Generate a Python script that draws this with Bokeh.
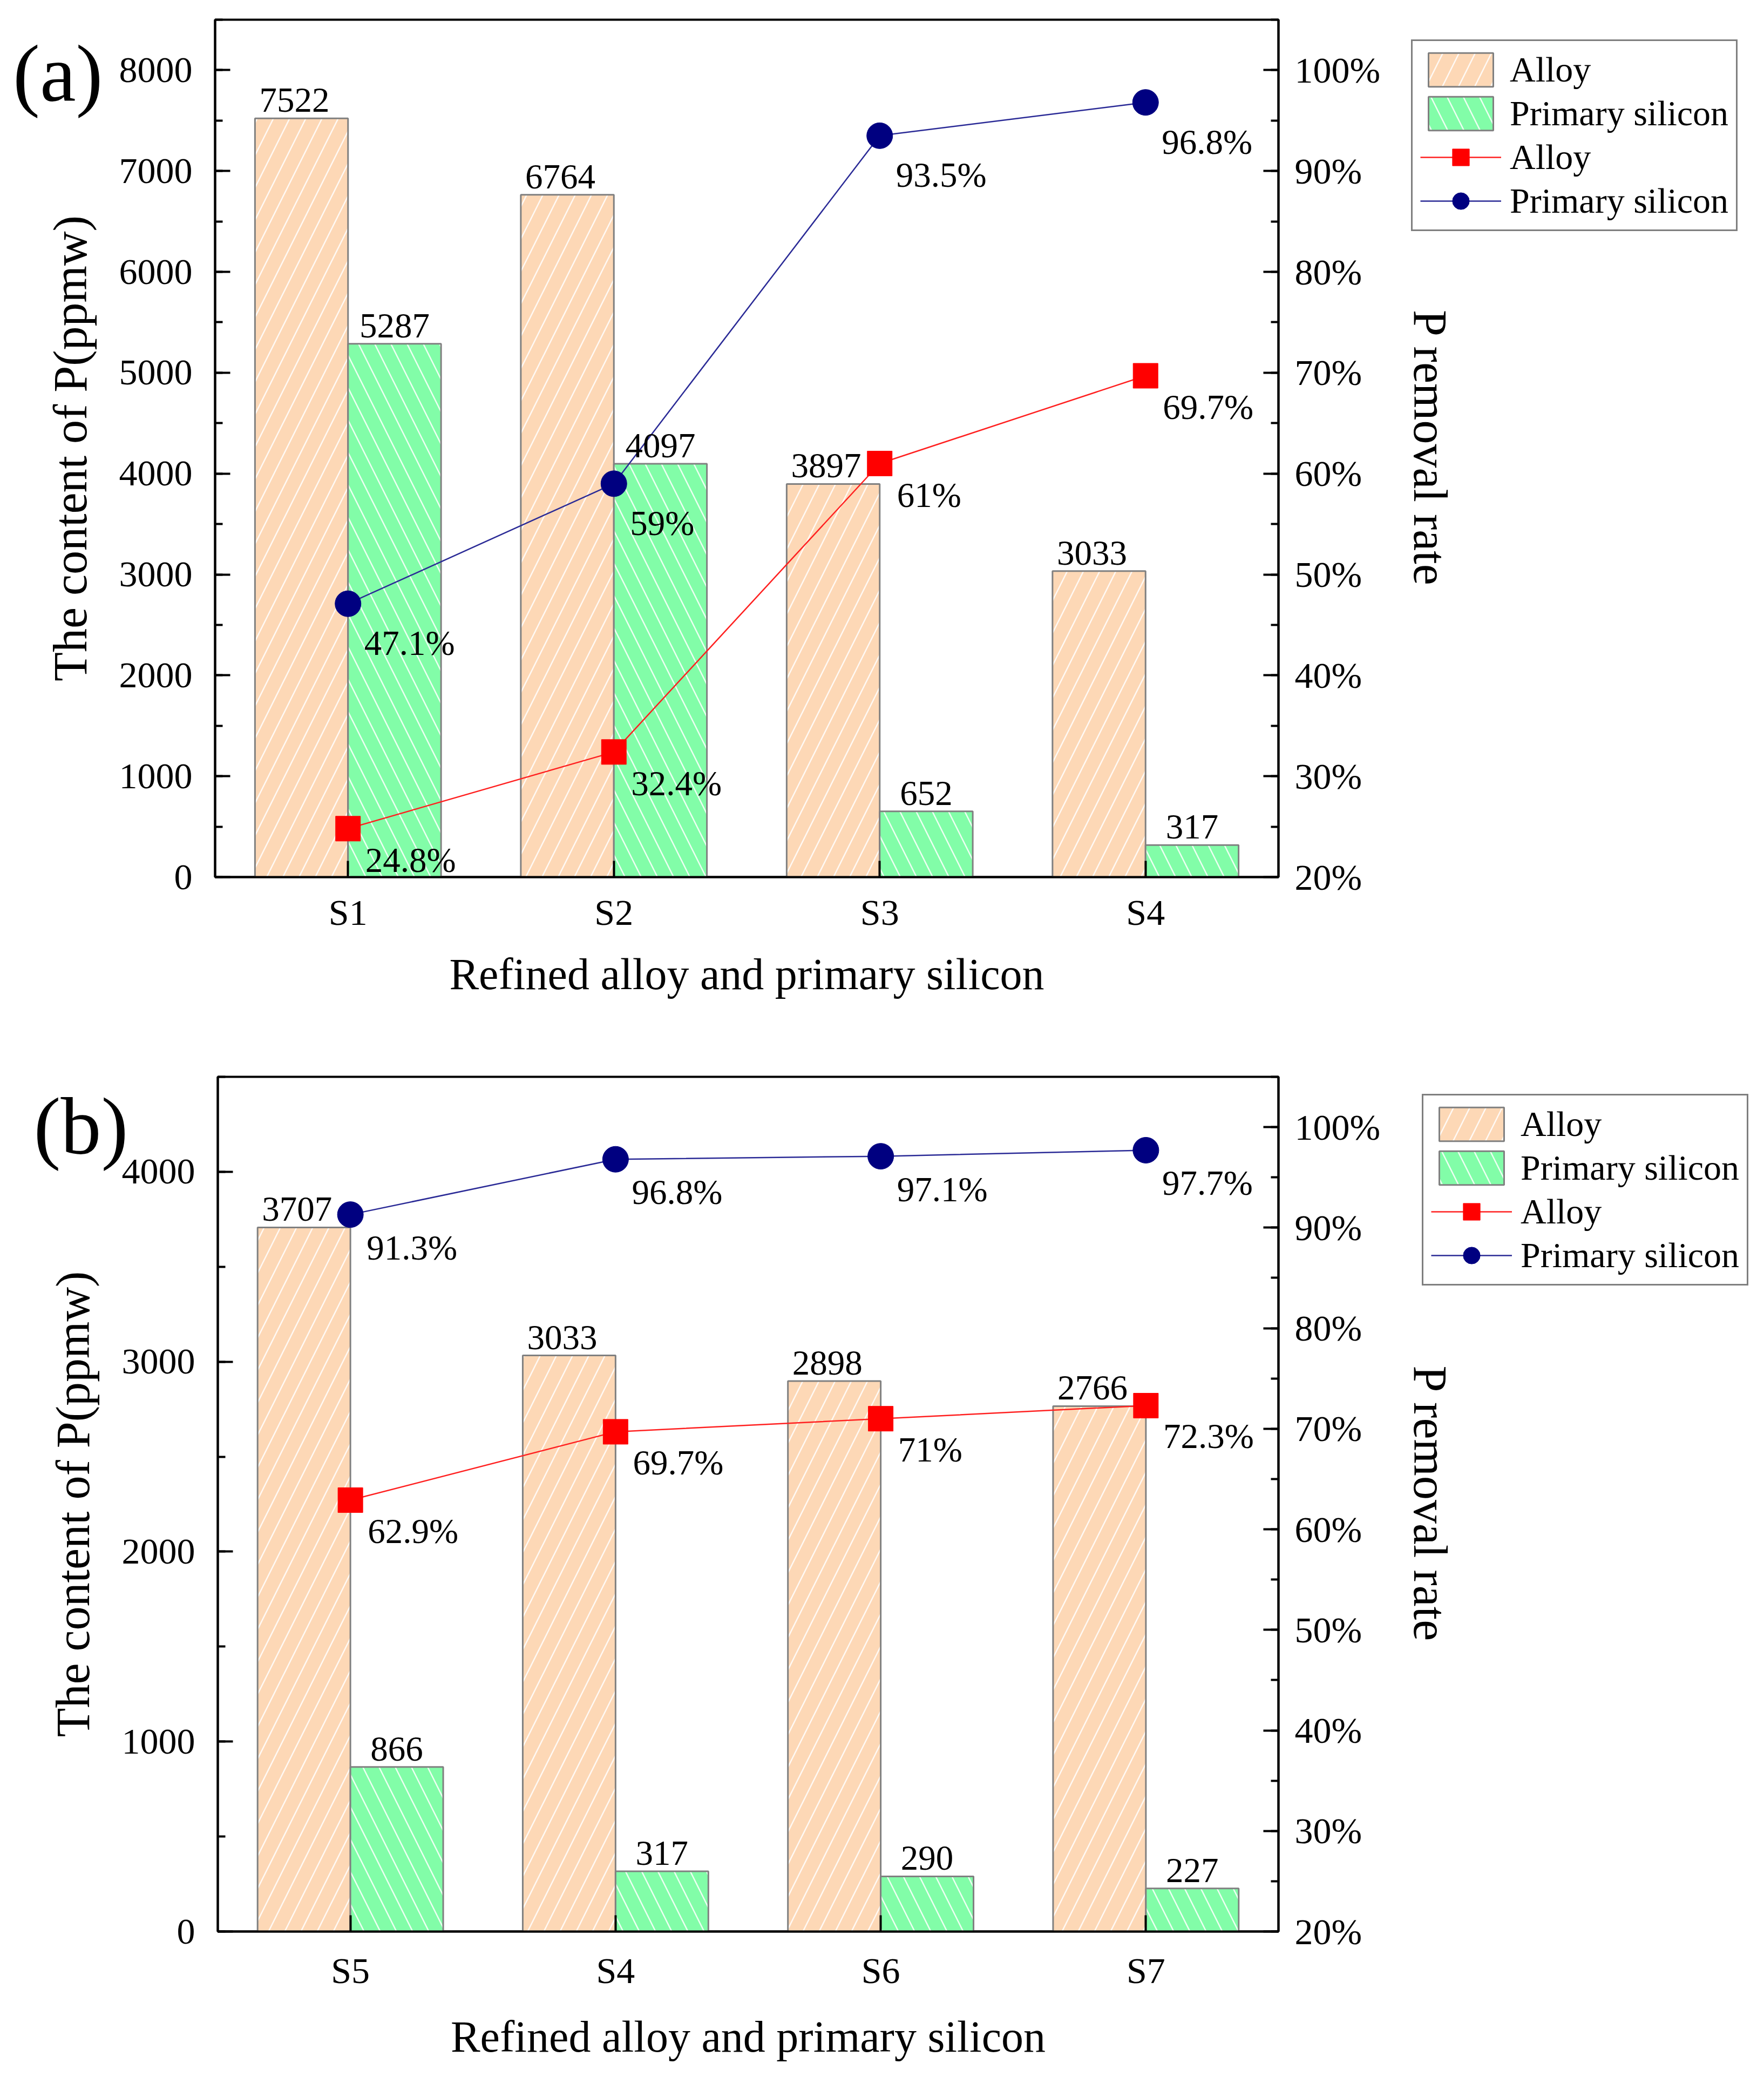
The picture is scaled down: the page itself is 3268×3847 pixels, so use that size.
from bokeh.plotting import figure
from bokeh.models import (Range1d, LinearAxis, SingleIntervalTicker, PrintfTickFormatter,
                          FactorRange, ColumnDataSource, Legend, LegendItem, FixedTicker,
                          GridBox)
from bokeh.transform import dodge
from bokeh.core.properties import value
from bokeh.embed import file_html
from bokeh.resources import INLINE

FONT = "Liberation Serif"

# ---- data: panel (a) ----
cats_a = ["S1", "S2", "S3", "S4"]
alloy_a = [7522, 6764, 3897, 3033]
silicon_a = [5287, 4097, 652, 317]
alloy_rate_a = [24.8, 32.4, 61, 69.7]
silicon_rate_a = [47.1, 59, 93.5, 96.8]

# ---- data: panel (b) ----
cats_b = ["S5", "S4", "S6", "S7"]
alloy_b = [3707, 3033, 2898, 2766]
silicon_b = [866, 317, 290, 227]
alloy_rate_b = [62.9, 69.7, 71, 72.3]
silicon_rate_b = [91.3, 96.8, 97.1, 97.7]

PEACH = "#FDD8B6"
GREEN = "#82FDA8"
NAVY = "#000080"
RED_LINE = "#FF2020"
BLUE_LINE = "#2A2A96"
W = 3250
HATCH = dict(hatch_color="white", hatch_scale=60, hatch_weight=2.5, hatch_alpha=0.85)


def make_source(cats, alloy, silicon, arate, srate):
    return ColumnDataSource(dict(
        cat=cats, alloy=alloy, silicon=silicon, arate=arate, srate=srate,
        alab=[str(v) for v in alloy], slab=[str(v) for v in silicon],
        arlab=[f"{v:g}%" for v in arate], srlab=[f"{v:g}%" for v in srate]))


def add_marks(p, src, rate_range="rate", visible=True):
    bar_a = p.vbar(x=dodge("cat", -0.175, range=p.x_range), top="alloy", width=0.35,
                   source=src, fill_color=PEACH, line_color="#808080", line_width=3,
                   hatch_pattern="/", visible=visible, **HATCH)
    bar_s = p.vbar(x=dodge("cat", 0.175, range=p.x_range), top="silicon", width=0.35,
                   source=src, fill_color=GREEN, line_color="#808080", line_width=3,
                   hatch_pattern="\\", visible=visible, **HATCH)
    ln_a = p.line(x="cat", y="arate", y_range_name=rate_range, source=src,
                  line_color=RED_LINE, line_width=2.5, visible=visible)
    ln_s = p.line(x="cat", y="srate", y_range_name=rate_range, source=src,
                  line_color=BLUE_LINE, line_width=2.5, visible=visible)
    mk_a = p.scatter(x="cat", y="arate", y_range_name=rate_range, source=src, marker="square",
                     size=46, fill_color="red", line_color="red", line_width=1,
                     visible=visible)
    mk_s = p.scatter(x="cat", y="srate", y_range_name=rate_range, source=src, marker="circle",
                     size=48, fill_color=NAVY, line_color=NAVY, line_width=1,
                     visible=visible)
    return bar_a, bar_s, ln_a, ln_s, mk_a, mk_s


def make_panel(src, cats, ymax, fig_h, b_top, b_left, frame_w, frame_h, tag, tag_y,
               tag_standoff, off_alloy, off_sil, xlab_standoff, xtitle_standoff):
    p = figure(width=W, height=fig_h, x_range=FactorRange(factors=cats),
               y_range=Range1d(0, ymax), output_backend="svg", toolbar_location=None,
               min_border_left=b_left, min_border_top=b_top,
               min_border_right=W - b_left - frame_w,
               min_border_bottom=fig_h - b_top - frame_h,
               align=("start", "start"))
    p.frame_align = False
    p.extra_y_ranges = {"rate": Range1d(20, 105)}
    p.xgrid.visible = False
    p.ygrid.visible = False
    p.outline_line_color = "black"
    p.outline_line_width = 4
    p.background_fill_color = "white"
    p.border_fill_color = "white"

    p.yaxis[0].ticker = SingleIntervalTicker(interval=1000, num_minor_ticks=2)
    p.yaxis[0].axis_label = "The content of P(ppmw)"
    p.xaxis[0].axis_label = "Refined alloy and primary silicon"

    rax = LinearAxis(y_range_name="rate",
                     ticker=SingleIntervalTicker(interval=10, num_minor_ticks=2),
                     formatter=PrintfTickFormatter(format="%d%%"),
                     axis_label="P removal rate")
    p.add_layout(rax, "right")

    for ax in p.axis:
        ax.axis_line_width = 4
        ax.axis_line_color = "black"
        ax.major_tick_line_width = 4
        ax.minor_tick_line_width = 4
        ax.major_tick_in = 28
        ax.major_tick_out = 0
        ax.minor_tick_in = 14
        ax.minor_tick_out = 0
        ax.major_label_text_font = FONT
        ax.major_label_text_font_size = "68px"
        ax.major_label_text_color = "black"
        ax.axis_label_text_font = FONT
        ax.axis_label_text_font_size = "88px"
        ax.axis_label_text_font_style = "normal"
        ax.axis_label_text_color = "black"
    p.yaxis[0].major_label_standoff = 42
    p.yaxis[0].axis_label_standoff = 39
    rax.major_label_standoff = 30
    rax.axis_label_standoff = 41
    p.xaxis[0].major_label_standoff = xlab_standoff
    p.xaxis[0].axis_label_standoff = xtitle_standoff
    p.xaxis[0].axis_label_text_font_size = "82px"
    p.xaxis[0].major_tick_in = 30

    # panel tag "(a)"/"(b)": the single label of an outer, invisible left axis
    tag_ax = LinearAxis(ticker=FixedTicker(ticks=[tag_y]), major_label_overrides={tag_y: tag},
                        axis_line_color=None, major_tick_line_color=None,
                        minor_tick_line_color=None, major_tick_in=0, major_tick_out=0,
                        minor_tick_in=0, minor_tick_out=0,
                        major_label_standoff=tag_standoff,
                        major_label_text_font=FONT, major_label_text_font_size="150px",
                        major_label_text_color="black")
    p.add_layout(tag_ax, "left")

    add_marks(p, src)

    common = dict(text_font=value(FONT), text_font_size="65px", text_color="black")
    p.text(x=dodge("cat", -0.175, range=p.x_range), y="alloy", text="alab", source=src,
           text_align="center", text_baseline="bottom", y_offset=-12, x_offset=-13, **common)
    p.text(x=dodge("cat", 0.175, range=p.x_range), y="silicon", text="slab", source=src,
           text_align="center", text_baseline="bottom", y_offset=-12, **common)
    p.text(x="cat", y="arate", y_range_name="rate", text="arlab", source=src,
           text_align="left", text_baseline="middle", x_offset=32, y_offset=off_alloy, **common)
    p.text(x="cat", y="srate", y_range_name="rate", text="srlab", source=src,
           text_align="left", text_baseline="middle", x_offset=30, y_offset=off_sil, **common)
    return p


LEG_W = 607


def make_legend_fig(src, cats, fig_h, left, off):
    # a transparent figure overlaid in the same grid cell that only holds the legend;
    # its proxy marks are hidden (the legend still draws their swatches)
    lf = figure(width=off + LEG_W, height=fig_h, x_range=FactorRange(factors=cats),
                y_range=Range1d(-20, -10), output_backend="svg", toolbar_location=None,
                min_border=0, x_axis_type=None, y_axis_type=None, title=None,
                margin=(0, 0, 0, left), align=("start", "start"))
    lf.frame_align = False
    lf.extra_y_ranges = {"rate": Range1d(-20, -10)}
    lf.xgrid.visible = False
    lf.ygrid.visible = False
    lf.outline_line_color = None
    lf.background_fill_alpha = 0
    lf.border_fill_alpha = 0
    bar_a, bar_s, ln_a, ln_s, mk_a, mk_s = add_marks(lf, src, visible=False)
    leg = Legend(items=[
        LegendItem(label=value("Alloy"), renderers=[bar_a]),
        LegendItem(label=value("Primary silicon"), renderers=[bar_s]),
        LegendItem(label=value("Alloy"), renderers=[ln_a, mk_a]),
        LegendItem(label=value("Primary silicon"), renderers=[ln_s, mk_s]),
    ], location="top_left")
    leg.border_line_color = "black"
    leg.border_line_width = 3
    leg.background_fill_color = "white"
    leg.background_fill_alpha = 1.0
    leg.inactive_fill_alpha = 0.0
    leg.label_text_font = FONT
    leg.label_text_font_size = "66px"
    leg.label_text_color = "black"
    leg.glyph_width = 150
    leg.glyph_height = 78
    leg.label_standoff = 16
    leg.padding = 14
    leg.spacing = 3
    leg.margin = off
    lf.add_layout(leg)
    return lf


src_a = make_source(cats_a, alloy_a, silicon_a, alloy_rate_a, silicon_rate_a)
src_b = make_source(cats_b, alloy_b, silicon_b, alloy_rate_b, silicon_rate_b)

pa = make_panel(src_a, cats_a, 8500, 1900, 36, 398, 1970, 1588, "(a)", 7970, -112,
                58, 73, 27, 28)
pb = make_panel(src_b, cats_b, 4500, 1925, 94, 403, 1965, 1583, "(b)", 4240, -154,
                57, 61, 34, 36)
la = make_legend_fig(src_a, cats_a, 1900, 2541, 73)
lb = make_legend_fig(src_b, cats_b, 1925, 2508, 126)

layout = GridBox(children=[(pa, 0, 0), (la, 0, 0), (pb, 1, 0), (lb, 1, 0)], spacing=0)
open("out.html", "w").write(file_html(layout, INLINE))
